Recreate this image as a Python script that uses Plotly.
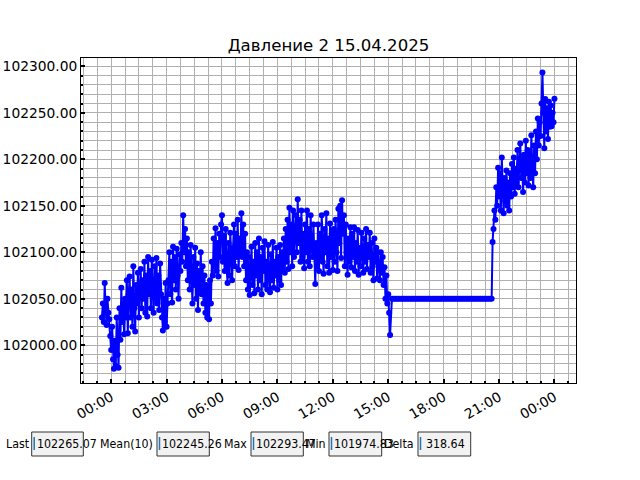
import pandas as pd
import plotly.graph_objects as go

# night/day readings, one every 3 minutes from 14.04 23:30 to 15.04 15:06
MORNING_START = "2025-04-14 23:30"
MORNING = [
    102030, 102045, 102025, 102067, 102040, 102022, 102050, 102035, 102028, 102010,
    101995, 102020, 101985, 101974.83, 102005, 101978, 102030, 101990, 101976, 102040,
    102006, 102062, 102025, 102045, 102012, 102050, 102030, 102070, 102013, 102055,
    102074, 102030, 102060, 102020, 102085, 102040, 102015, 102065, 102045, 102078,
    102030, 102060, 102082, 102040, 102070, 102050, 102090, 102035, 102075, 102031,
    102095, 102055, 102080, 102040, 102092, 102060, 102035, 102085, 102050, 102094,
    102045, 102075, 102038, 102088, 102055, 102030, 102016, 102050, 102025, 102067,
    102020, 102045, 102070, 102100, 102055, 102090, 102046, 102106, 102070, 102095,
    102060, 102104, 102075, 102050, 102098, 102080, 102110, 102090, 102140, 102100,
    102125, 102085, 102115, 102070, 102100, 102060, 102108, 102075, 102045, 102095,
    102065, 102105, 102050, 102088, 102038, 102080, 102060, 102100, 102055, 102085,
    102045, 102075, 102035, 102065, 102030, 102060, 102028, 102070, 102045, 102090,
    102075, 102115, 102085, 102126, 102080, 102110, 102074, 102120, 102095, 102130,
    102140, 102090, 102118, 102080, 102125, 102085, 102067, 102110, 102075, 102121,
    102090, 102070, 102105, 102130, 102085, 102120, 102095, 102135, 102081, 102115,
    102100, 102142, 102095, 102130, 102085, 102120, 102070, 102100, 102060, 102095,
    102054, 102085, 102106, 102065, 102090, 102056, 102110, 102075, 102100, 102060,
    102115, 102070, 102095, 102055, 102105, 102080, 102112, 102065, 102090, 102060,
    102108, 102075, 102057, 102098, 102070, 102111, 102062, 102090, 102075, 102105,
    102060, 102095, 102070, 102108, 102065, 102100, 102080, 102115, 102078, 102125,
    102090, 102135, 102082, 102148, 102100, 102130, 102085, 102145, 102095, 102120,
    102140, 102100, 102157, 102110, 102135, 102090, 102145, 102095, 102120, 102083,
    102130, 102100, 102145, 102090, 102125, 102085, 102140, 102105, 102095, 102130,
    102100, 102066, 102110, 102085, 102130, 102080, 102120, 102095, 102140, 102090,
    102077, 102125, 102100, 102142, 102085, 102115, 102078, 102131, 102095, 102120,
    102081, 102125, 102090, 102135, 102100, 102080, 102147, 102110, 102150, 102094,
    102156, 102120, 102140, 102085, 102130, 102100, 102076, 102115, 102090, 102127,
    102084, 102120, 102095, 102127, 102080, 102110, 102090, 102124, 102076, 102105,
    102085, 102121, 102095, 102078, 102115, 102090, 102125, 102082, 102108, 102095,
    102121, 102078, 102110, 102085, 102070, 102115, 102090, 102105, 102072, 102100,
    102085, 102070, 102100, 102078, 102095, 102065, 102084, 102050, 102075, 102045,
    102055, 102035, 102011,
]
# sensor stuck, one reading every 6 minutes from 15:12 to 20:36
FLAT_START = "2025-04-15 15:12"
FLAT = [
    102050, 102050, 102050, 102050, 102050, 102050, 102050, 102050, 102050, 102050,
    102050, 102050, 102050, 102050, 102050, 102050, 102050, 102050, 102050, 102050,
    102050, 102050, 102050, 102050, 102050, 102050, 102050, 102050, 102050, 102050,
    102050, 102050, 102050, 102050, 102050, 102050, 102050, 102050, 102050, 102050,
    102050, 102050, 102050, 102050, 102050, 102050, 102050, 102050, 102050, 102050,
    102050, 102050, 102050, 102050, 102050,
]
# evening readings, one every 3 minutes from 20:39 to 00:00
EVENING_START = "2025-04-15 20:39"
EVENING = [
    102111, 102125, 102145, 102135, 102170, 102150, 102191, 102160, 102185, 102145,
    102202, 102170, 102142, 102180, 102155, 102188, 102150, 102175, 102145, 102185,
    102160, 102195, 102170, 102202, 102163, 102190, 102175, 102210, 102170, 102195,
    102217, 102180, 102200, 102165, 102205, 102175, 102220, 102185, 102210, 102172,
    102205, 102180, 102226, 102190, 102170, 102215, 102185, 102230, 102200, 102244,
    102215, 102240, 102225, 102260, 102293.47, 102250, 102212, 102265, 102230, 102255,
    102222, 102262, 102235, 102258, 102235.53, 102250, 102240, 102265.07,
]
X_RANGE = ["2025-04-14 22:22", "2025-04-16 01:10"]
Y_RANGE = [101959.5, 102309]
TITLE = "Давление 2 15.04.2025"

times = pd.DatetimeIndex(
    list(pd.date_range(MORNING_START, periods=len(MORNING), freq="3min"))
    + list(pd.date_range(FLAT_START, periods=len(FLAT), freq="6min"))
    + list(pd.date_range(EVENING_START, periods=len(EVENING), freq="3min"))
)
values = pd.Series(MORNING + FLAT + EVENING, dtype=float)

stats = [
    ("Last", f"{values.iloc[-1]:.2f}"),
    ("Mean(10)", f"{values.iloc[-10:].mean():.2f}"),
    ("Max", f"{values.max():.2f}"),
    ("Min", f"{values.min():.2f}"),
    ("Delta", f"{values.max() - values.min():.2f}"),
]

W, H = 640, 480
L, R, T, B = 81, 64, 58, 97


def px(x):
    return (x - L) / (W - L - R)


def py(y):
    return (H - B - y) / (H - T - B)


fig = go.Figure()
fig.add_trace(go.Scatter(
    x=times, y=values, mode="lines+markers",
    line=dict(color="blue", width=2),
    marker=dict(color="blue", size=6),
    showlegend=False,
))

grid = "#b0b0b0"
tick_font = dict(family="DejaVu Sans", size=13.8, color="black")
fig.update_xaxes(
    type="date", range=X_RANGE, automargin=False,
    tick0="2025-04-15 00:00", dtick=3 * 3600 * 1000, tickformat="%H:%M",
    tickangle=-30, ticks="inside", ticklen=4, tickwidth=2, tickcolor="black",
    tickfont=tick_font,
    showgrid=True, gridcolor=grid, gridwidth=1,
    minor=dict(tick0="2025-04-15 00:00", dtick=45 * 60 * 1000, ticks="inside",
               ticklen=2, tickcolor="black", showgrid=True, gridcolor=grid, gridwidth=1),
    showline=True, linecolor="black", linewidth=1, mirror=True, zeroline=False,
)
fig.update_yaxes(
    range=Y_RANGE, dtick=50, tickformat=".2f", automargin=False,
    ticks="inside", ticklen=4, tickwidth=2, tickcolor="black",
    tickfont=tick_font,
    showgrid=True, gridcolor=grid, gridwidth=1,
    minor=dict(dtick=10, ticks="inside", ticklen=2, tickcolor="black",
               showgrid=True, gridcolor=grid, gridwidth=1),
    showline=True, linecolor="black", linewidth=1, mirror=True, zeroline=False,
)

# text boxes under the chart
boxes = [(31.7, 83.3, 32, 35), (157, 209.3, 155, 160), (251, 303.3, 249, 254),
         (329, 381.7, 328, 332), (418, 470.7, 416, 424)]
box_font = dict(family="DejaVu Sans Condensed, DejaVu Sans", size=12.3, color="black")
for (label, text), (x0, x1, lx, tx) in zip(stats, boxes):
    fig.add_shape(type="rect", xref="paper", yref="paper",
                  x0=px(x0), x1=px(x1), y0=py(456), y1=py(432),
                  fillcolor="#f2f2f2", line=dict(color="#333", width=1))
    fig.add_shape(type="line", xref="paper", yref="paper",
                  x0=px(x0 + 2.5), x1=px(x0 + 2.5), y0=py(450), y1=py(437),
                  line=dict(color="#1f77b4", width=1.5))
    fig.add_annotation(xref="paper", yref="paper", x=px(lx), y=py(444),
                       text=label, showarrow=False, xanchor="right", yanchor="middle",
                       font=box_font)
    fig.add_annotation(xref="paper", yref="paper", x=px(tx), y=py(444),
                       text=text, showarrow=False, xanchor="left", yanchor="middle",
                       font=box_font)

fig.update_layout(
    width=W, height=H,
    margin=dict(l=L, r=R, t=T, b=B),
    title=dict(text=TITLE, x=0.5, xref="paper", y=1 - 45 / H, yanchor="middle",
               font=dict(family="DejaVu Sans", size=16.6, color="black")),
    font=dict(family="DejaVu Sans", size=13, color="black"),
    plot_bgcolor="white", paper_bgcolor="white",
)

fig.write_html("out.html", config={"displayModeBar": False},
               post_script="document.body.style.margin = '0';")
